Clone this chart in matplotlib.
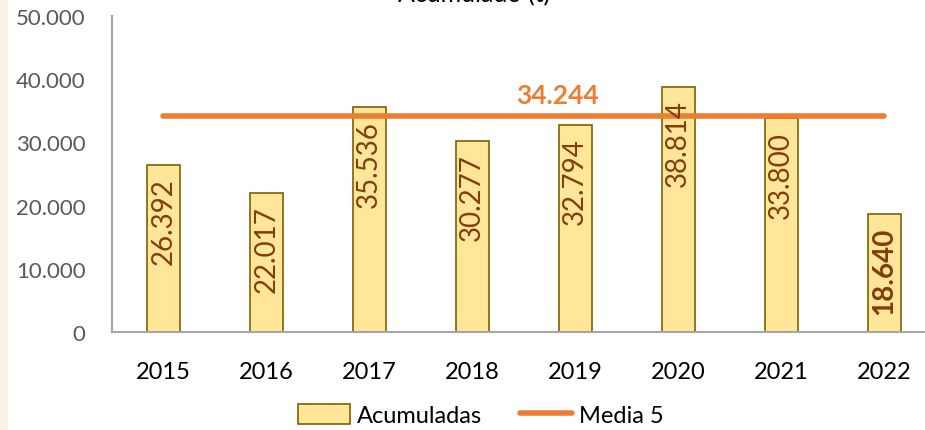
import matplotlib
matplotlib.use('Agg')
import matplotlib.pyplot as plt
from matplotlib.patches import Rectangle
from matplotlib.ticker import FuncFormatter

plt.rcParams['font.family'] = ['Lato', 'DejaVu Sans']

years = ['2015', '2016', '2017', '2018', '2019', '2020', '2021', '2022']
acumuladas = [26392, 22017, 35536, 30277, 32794, 38814, 33800, 18640]
media5 = [34244, 34244, 34244, 34244, 34244, 34244, 34244, 34244]

def fmt(v):
    return f"{v:,.0f}".replace(',', '.')

fig = plt.figure(figsize=(9.25, 4.31), dpi=100)
fig.patches.append(Rectangle((0, 0), 8 / 925, 1, transform=fig.transFigure,
                             fc='#FBF0E6', ec='none', zorder=0))
ax = fig.add_axes([112 / 925, 98 / 431, 823.5 / 925, 316 / 431])

x = list(range(len(years)))
bars = ax.bar(x, acumuladas, width=0.32, color='#FFE699', edgecolor='#7F6000',
              lw=1.2, label='Acumuladas', zorder=2)
line, = ax.plot(x, media5, color='#ED7D31', lw=4, solid_capstyle='round',
                label='Media 5', zorder=3)

for i, v in enumerate(acumuladas):
    last = i == len(acumuladas) - 1
    ax.annotate(fmt(v), xy=(i, v), xytext=(0, -9), textcoords='offset points',
                rotation=90, ha='center', va='top', fontsize=20,
                color='#843C0C', fontweight='bold' if last else 'normal',
                zorder=4)

ax.text(3.83, media5[0] + 1300, fmt(media5[0]), ha='center', va='bottom',
        fontsize=19, color='#ED7D31', fontweight='bold', zorder=4)

ax.set_xlim(-0.5, 7.5)
ax.set_ylim(0, 50000)
ax.set_yticks(range(0, 50001, 10000))
ax.yaxis.set_major_formatter(FuncFormatter(lambda v, p: fmt(v)))
ax.set_xticks(x)
ax.set_xticklabels(years)
ax.tick_params(axis='y', length=0, labelsize=16, labelcolor='#595959', pad=19)
ax.tick_params(axis='x', length=0, labelsize=17, labelcolor='#000000', pad=21)
for s in ['top', 'right']:
    ax.spines[s].set_visible(False)
ax.spines['left'].set_color('#A6A6A6')
ax.spines['bottom'].set_color('#A6A6A6')
ax.spines['left'].set_linewidth(1.5)
ax.spines['bottom'].set_linewidth(1.5)

fig.text(0.513, 1 - 6 / 431, 'Acumulado (t)', ha='center', va='bottom',
         fontsize=18, color='#000000')

fig.legend([bars, line], ['Acumuladas', 'Media 5'], loc='center',
           bbox_to_anchor=(481 / 925, 1 - 416 / 431), ncol=2,
           frameon=False, fontsize=17, handlelength=2.2, handleheight=0.9,
           columnspacing=1.6, handletextpad=0.3)

fig.savefig('out.png', dpi=100, facecolor='white')
